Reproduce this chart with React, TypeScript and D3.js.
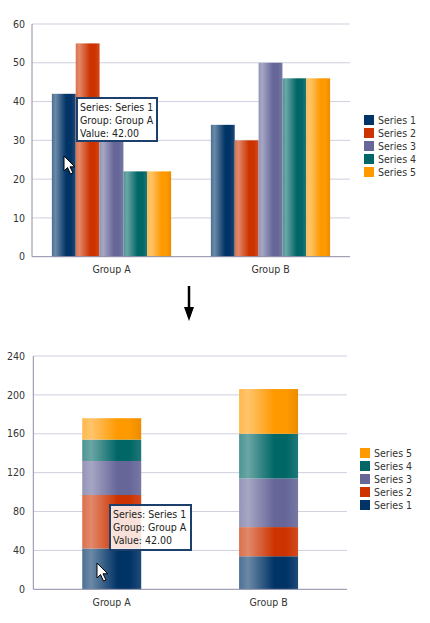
import React from 'react';
import * as d3 from 'd3';

const groups = ['Group A', 'Group B'];
const seriesNames = ['Series 1', 'Series 2', 'Series 3', 'Series 4', 'Series 5'];
const seriesColors = ['#003366', '#CC3300', '#666699', '#006666', '#FF9900'];
const groupAValues = [42, 55, 35, 22, 22];
const groupBValues = [34, 30, 50, 46, 46];
const clusteredTicks = [0, 10, 20, 30, 40, 50, 60];
const stackedTicks = [0, 40, 80, 120, 160, 200, 240];
const tooltipLines = ['Series: Series 1', 'Group: Group A', 'Value: 42.00'];

const FONT = '"DejaVu Sans Condensed", "DejaVu Sans", sans-serif';
const FS = 10.5;
const TEXT = '#333333';
const GRID = '#cfcfe0';
const AXIS = '#8c8ca6';

const rows = groups.map((g, gi) => {
  const r: any = { group: g };
  seriesNames.forEach((s, si) => {
    r[s] = gi === 0 ? groupAValues[si] : groupBValues[si];
  });
  return r;
});

function Gradients() {
  return (
    <defs>
      {seriesColors.map((c, i) => {
        const lw = d3.interpolateRgb(c, '#ffffff');
        const dk = d3.interpolateRgb(c, '#000000');
        return (
          <linearGradient key={i} id={`g${i}`} x1="0" x2="1" y1="0" y2="0">
            <stop offset="0" stopColor={lw(0.3)} />
            <stop offset="0.15" stopColor={lw(0.42)} />
            <stop offset="0.6" stopColor={c} />
            <stop offset="0.8" stopColor={c} />
            <stop offset="1" stopColor={i === 4 ? dk(0.08) : lw(0.12)} />
          </linearGradient>
        );
      })}
    </defs>
  );
}

function Cursor({ x, y }: { x: number; y: number }) {
  const pts = [[0, 0], [0, 15], [3.5, 11.5], [6.5, 18], [9, 17], [6, 10.8], [10.8, 10.8]];
  const d = 'M' + pts.map(p => `${x + p[0]},${y + p[1]}`).join('L') + 'Z';
  return <path d={d} fill="#ffffff" stroke="#000000" strokeWidth={1} />;
}

function Tooltip({ x, y, w, h, opacity }: { x: number; y: number; w: number; h: number; opacity: number }) {
  return (
    <g>
      <rect x={x} y={y} width={w} height={h} fill="#ffffff" fillOpacity={opacity} stroke="#1c3f6b" strokeWidth={2} />
      {tooltipLines.map((t, i) => (
        <text key={i} x={x + 3} y={y + 13 + i * 13} fontFamily={FONT} fontSize={FS} fill="#222">
          {t}
        </text>
      ))}
    </g>
  );
}

function ClusteredChart() {
  const left = 32, right = 350, top = 24, bottom = 256.7;
  const x0 = d3.scaleBand<string>().domain(groups).range([left, right]).paddingInner(0.25).paddingOuter(0.125);
  const x1 = d3.scaleBand<string>().domain(seriesNames).range([0, x0.bandwidth()]);
  const xc = d3.scaleBand<string>().domain(groups).range([left, right]);
  const y = d3.scaleLinear().domain([0, 60]).range([bottom, top]);
  return (
    <g>
      {clusteredTicks.map(t => (
        <g key={t}>
          {t > 0 && <line x1={left} x2={right} y1={y(t)} y2={y(t)} stroke={GRID} strokeWidth={1} />}
          <text x={25} y={y(t)} dy="0.35em" textAnchor="end" fontFamily={FONT} fontSize={FS} fill={TEXT}>{t}</text>
        </g>
      ))}
      {rows.map(r => (
        <g key={r.group}>
          {seriesNames.map((s, si) => (
            <rect key={s} x={(x0(r.group) as number) + (x1(s) as number)} y={y(r[s])} width={x1.bandwidth()} height={y(0) - y(r[s])} fill={`url(#g${si})`} />
          ))}
          <text x={(xc(r.group) as number) + xc.bandwidth() / 2} y={273} textAnchor="middle" fontFamily={FONT} fontSize={FS} fill={TEXT}>{r.group}</text>
        </g>
      ))}
      <line x1={left} x2={left} y1={top} y2={bottom} stroke={AXIS} strokeWidth={1} />
      <line x1={left} x2={right} y1={bottom} y2={bottom} stroke={AXIS} strokeWidth={1} />
      {seriesNames.map((s, si) => (
        <g key={s}>
          <rect x={364} y={115 + si * 13} width={10} height={10} fill={seriesColors[si]} />
          <text x={378} y={124 + si * 13} fontFamily={FONT} fontSize={FS} fill={TEXT}>{s}</text>
        </g>
      ))}
      <Tooltip x={77} y={98} w={80} h={43} opacity={1} />
      <Cursor x={64} y={156} />
    </g>
  );
}

function StackedChart() {
  const left = 33.3, right = 347, top = 356, bottom = 589.3;
  const x = d3.scaleBand<string>().domain(groups).range([left, right]).paddingInner(0.624).paddingOuter(0.312);
  const xc = d3.scaleBand<string>().domain(groups).range([left, right]);
  const y = d3.scaleLinear().domain([0, 240]).range([bottom, top]);
  const stacked = d3.stack<any>().keys(seriesNames)(rows);
  const legendOrder = seriesNames.map((s, i) => i).reverse();
  return (
    <g>
      {stackedTicks.map(t => (
        <g key={t}>
          {t > 0 && <line x1={left} x2={right} y1={y(t)} y2={y(t)} stroke={GRID} strokeWidth={1} />}
          <text x={25} y={y(t)} dy="0.35em" textAnchor="end" fontFamily={FONT} fontSize={FS} fill={TEXT}>{t}</text>
        </g>
      ))}
      {stacked.map((layer, si) => (
        <g key={layer.key}>
          {layer.map((d, gi) => (
            <rect key={gi} x={x(groups[gi]) as number} y={y(d[1])} width={x.bandwidth()} height={y(d[0]) - y(d[1])} fill={`url(#g${si})`} />
          ))}
        </g>
      ))}
      {groups.map(g => (
        <text key={g} x={(xc(g) as number) + xc.bandwidth() / 2} y={606} textAnchor="middle" fontFamily={FONT} fontSize={FS} fill={TEXT}>{g}</text>
      ))}
      <line x1={left} x2={left} y1={top} y2={bottom} stroke={AXIS} strokeWidth={1} />
      <line x1={left} x2={right} y1={bottom} y2={bottom} stroke={AXIS} strokeWidth={1} />
      {legendOrder.map((si, k) => (
        <g key={si}>
          <rect x={360} y={448 + k * 13} width={10} height={10} fill={seriesColors[si]} />
          <text x={374} y={457 + k * 13} fontFamily={FONT} fontSize={FS} fill={TEXT}>{seriesNames[si]}</text>
        </g>
      ))}
      <Tooltip x={110} y={505} w={81} h={45} opacity={0.85} />
      <Cursor x={97} y={563} />
    </g>
  );
}

export default function App() {
  return (
    <svg width={430} height={623} style={{ position: 'absolute', left: 0, top: 0, display: 'block', background: '#ffffff' }}>
      <Gradients />
      <ClusteredChart />
      <line x1={189} x2={189} y1={286} y2={309} stroke="#000" strokeWidth={2.5} />
      <path d="M184,307L194,307L189,321Z" fill="#000" />
      <StackedChart />
    </svg>
  );
}
